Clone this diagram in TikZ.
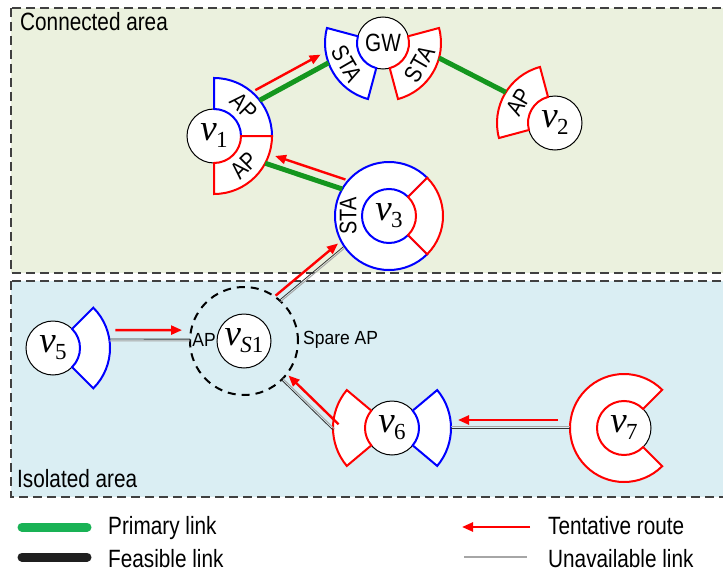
\documentclass[tikz,border=0pt]{standalone}
\usepackage{fontspec}
\setmainfont{Liberation Sans}
\newfontfamily\labfont[FakeStretch=0.83]{Liberation Sans}
\newfontfamily\smallfont[FakeStretch=0.92]{Liberation Sans}
\newfontfamily\vfont{Liberation Serif}
\usetikzlibrary{calc,arrows.meta}

\definecolor{conbg}{RGB}{235,241,222}
\definecolor{isobg}{RGB}{218,238,243}
\definecolor{linkgreen}{RGB}{20,150,30}
\definecolor{legendgreen}{RGB}{25,178,85}
\definecolor{secblue}{RGB}{0,0,255}
\definecolor{secred}{RGB}{255,0,0}
\definecolor{areaedge}{RGB}{64,64,64}

% vertex label: italic v with a lowered subscript
\newcommand\vlab[1]{{\vfont\fontsize{37}{37}\selectfont\itshape v}\kern-0.5pt\raisebox{-7pt}{\vfont\fontsize{23}{23}\selectfont #1}}

% annular sector: centre, inner radius, outer radius, start, end, colour
\newcommand\ringsector[6]{%
  \draw[sector,draw=#6] ($(#1)+(#4:#2)$) -- ($(#1)+(#4:#3)$)
    arc[start angle=#4,end angle=#5,radius=#3] -- ($(#1)+(#5:#2)$)
    arc[start angle=#5,end angle=#4,radius=#2] -- cycle;}

\tikzset{
  vnode/.style={circle,draw=black,line width=1pt,fill=white,minimum size=54pt,inner sep=0pt},
  sector/.style={fill=white,line width=2pt,line join=miter},
  area/.style={draw=areaedge,line width=2pt,dash pattern=on 9pt off 5pt},
  sparering/.style={circle,draw=black,line width=2pt,dash pattern=on 8pt off 6pt,minimum size=108pt,inner sep=0pt},
  primary/.style={draw=linkgreen,line width=5pt},
  route/.style={draw=secred,line width=2.4pt,-{Triangle[length=11pt,width=9pt]}},
  weak/.style={draw=black!80,line width=0.8pt},
  weakshade/.style={draw=black!35,line width=1pt},
  seclab/.style={font=\labfont\fontsize{24}{24}\selectfont,inner sep=0pt},
  smalllab/.style={font=\smallfont\fontsize{19}{19}\selectfont,inner sep=0pt},
  arealab/.style={font=\labfont\fontsize{25}{25}\selectfont,inner sep=0pt,anchor=base west},
  leglab/.style={font=\labfont\fontsize{25}{25}\selectfont,inner sep=0pt,anchor=base west},
}

% thin link drawn as a dark line with a faint companion line
\newcommand\weaklink[2]{%
  \draw[weak] (#1) -- (#2);
  \draw[weakshade] ($(#1)!1.8pt!-90:(#2)$) -- ($(#2)!1.8pt!90:(#1)$);}

\begin{document}
\begin{tikzpicture}[x=1pt,y=1pt]
\useasboundingbox (0,0) rectangle (723,-578);
\fill[white] (0,0) rectangle (723,-578);

% areas
\filldraw[area,fill=conbg] (11,-8) rectangle (745,-273);
\filldraw[area,fill=isobg] (11,-281) rectangle (745,-497);
\node[arealab] (conlab) at (20,-31) {Connected area};
\node[arealab] (isolab) at (17,-487) {Isolated area};

% vertices
\node[vnode,minimum size=52pt,font=\labfont\fontsize{25}{25}\selectfont] (gw) at (383,-43) {GW};
\node[vnode] (v1) at (214,-136) {\vlab{1}};
\node[vnode] (v2) at (555,-123) {\vlab{2}};
\node[vnode] (v3) at (389,-216) {\vlab{3}};
\node[vnode] (v5) at (53,-348) {\vlab{5}};
\node[sparering] (spare) at (244,-341) {};
\node[vnode] (vs1) at (244,-341) {\vlab{{\itshape S}1}};
\node[vnode] (v6) at (392,-428) {\vlab{6}};
\node[vnode] (v7) at (624,-428) {\vlab{7}};

% interface sectors
\ringsector{gw}{26}{58}{165}{255}{secblue}
\ringsector{gw}{26}{58}{-75}{15}{secred}
\node[seclab,rotate=-60] (gwsta1) at ($(gw)+(210:42)$) {STA};
\node[seclab,rotate=60] (gwsta2) at ($(gw)+(-30:42)$) {STA};

\ringsector{v1}{27}{58}{0}{90}{secblue}
\ringsector{v1}{27}{58}{-90}{0}{secred}
\node[seclab,rotate=-45] (v1ap1) at ($(v1)+(45:42)$) {AP};
\node[seclab,rotate=45] (v1ap2) at ($(v1)+(-45:42)$) {AP};

\ringsector{v2}{27}{58}{105}{195}{secred}
\node[seclab,rotate=60] (v2ap) at ($(v2)+(150:42)$) {AP};

\ringsector{v3}{27}{54}{45}{315}{secblue}
\ringsector{v3}{27}{54}{-45}{45}{secred}
\node[seclab,rotate=90] (v3sta) at ($(v3)+(180:41)$) {STA};

\ringsector{v5}{27}{57}{-45}{45}{secblue}

\ringsector{v6}{27}{59}{140}{220}{secred}
\ringsector{v6}{27}{59}{-40}{40}{secblue}

\ringsector{v7}{27}{54}{45}{315}{secred}

\node[smalllab] (vs1ap) at (204,-340) {AP};
\node[smalllab,anchor=west] (sparelab) at (303,-340) {Spare AP};

% link end points
\coordinate (v1a) at ($(v1)+(38:58)$);
\coordinate (gwa) at ($(gw)+(200:58)$);
\coordinate (gwb) at ($(gw)+(-15:58)$);
\coordinate (v2a) at ($(v2)+(148:58)$);
\coordinate (v3a) at ($(v3)+(150:54)$);
\coordinate (v1b) at ($(v1)+(-28:58)$);
\coordinate (spa) at ($(spare.center)+(49:54)$);
\coordinate (v3b) at ($(v3)+(214:55)$);
\coordinate (v5a) at ($(v5)+(9:57)$);
\coordinate (spb) at ($(spare.center)+(178:54)$);
\coordinate (v6a) at ($(v6)+(182:59)$);
\coordinate (spc) at ($(spare.center)+(-46:54)$);
\coordinate (v7a) at ($(v7)+(180:54)$);
\coordinate (v6b) at ($(v6)+(0:59)$);

% primary links
\draw[primary] (v1a) -- (gwa);
\draw[primary] (gwb) -- (v2a);
\draw[primary] (v3a) -- (v1b);

% unavailable links
\weaklink{spa}{v3b}
\weaklink{v5a}{spb}
\weaklink{v6a}{spc}
\weaklink{v7a}{v6b}

% tentative route
\draw[route,shorten <=1pt,shorten >=3pt] ($(v1a)!11pt!90:(gwa)$) -- ($(gwa)!11pt!-90:(v1a)$);
\draw[route,shorten >=7pt] ($(v3a)!10pt!-90:(v1b)$) -- ($(v1b)!10pt!90:(v3a)$);
\draw[route,shorten >=2pt] ($(spa)!6pt!90:(v3b)$) -- ($(v3b)!6pt!-90:(spa)$);
\draw[route,shorten <=6pt,shorten >=8pt] ($(v5a)!9pt!90:(spb)$) -- ($(spb)!9pt!-90:(v5a)$);
\draw[route,shorten >=2pt] ($(v6a)!8pt!-90:(spc)$) -- ($(spc)!8pt!90:(v6a)$);
\draw[route,shorten <=12pt,shorten >=7pt] ($(v7a)!8pt!-90:(v6b)$) -- ($(v6b)!8pt!90:(v7a)$);

% legend
\coordinate (lg1a) at (22,-527); \coordinate (lg1b) at (87,-527);
\coordinate (lg2a) at (22,-557); \coordinate (lg2b) at (87,-557);
\coordinate (lg3a) at (530,-527); \coordinate (lg3b) at (462,-527);
\coordinate (lg4a) at (464,-557); \coordinate (lg4b) at (527,-557);
\draw[line width=9pt,line cap=round,draw=legendgreen] (lg1a) -- (lg1b);
\draw[line width=9pt,line cap=round,draw=black!88] (lg2a) -- (lg2b);
\draw[route] (lg3a) -- (lg3b);
\draw[line width=2.5pt,draw=black!35] (lg4a) -- (lg4b);
\node[leglab] (leg1) at (108,-534) {Primary link};
\node[leglab] (leg2) at (108,-567) {Feasible link};
\node[leglab] (leg3) at (548,-534) {Tentative route};
\node[leglab] (leg4) at (548,-567) {Unavailable link};
\end{tikzpicture}
\end{document}
